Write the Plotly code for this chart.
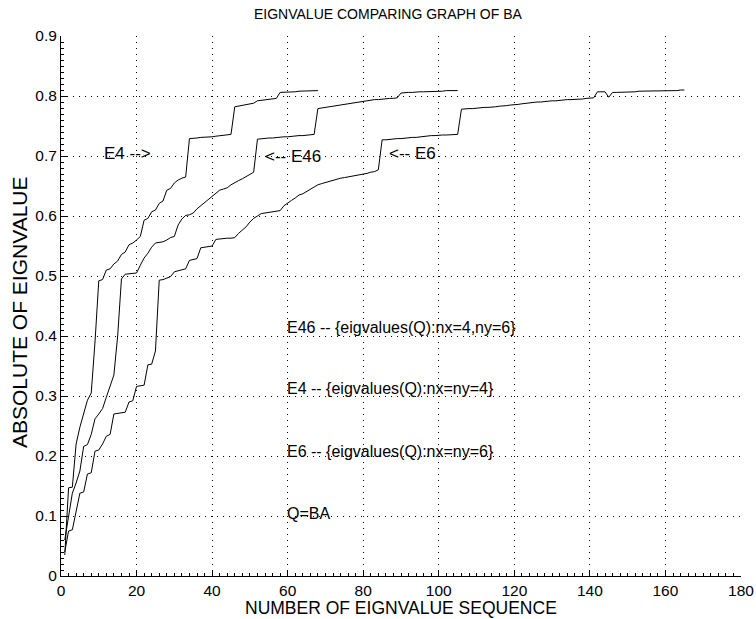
import plotly.graph_objects as go

# ---- data (absolute eigenvalues sorted, index 1..N) ----
e4_vals = [0.035, 0.147, 0.148, 0.220, 0.248, 0.270, 0.293, 0.305, 0.390, 0.492,
           0.494, 0.510, 0.512, 0.520, 0.525, 0.536, 0.540, 0.552, 0.555, 0.560,
           0.566, 0.593, 0.596, 0.607, 0.610, 0.621, 0.625, 0.643, 0.646, 0.655,
           0.660, 0.663, 0.665, 0.729, 0.729, 0.730, 0.731, 0.731, 0.732, 0.732,
           0.733, 0.734, 0.734, 0.735, 0.736, 0.782, 0.783, 0.784, 0.785, 0.786,
           0.788, 0.792, 0.793, 0.794, 0.795, 0.795, 0.796, 0.806, 0.806, 0.807,
           0.807, 0.807, 0.808, 0.808, 0.808, 0.809, 0.809, 0.809]

e46_vals = [0.060, 0.100, 0.138, 0.155, 0.175, 0.216, 0.219, 0.236, 0.262, 0.270,
            0.279, 0.298, 0.315, 0.335, 0.400, 0.495, 0.503, 0.504, 0.504, 0.505,
            0.518, 0.530, 0.538, 0.548, 0.555, 0.556, 0.557, 0.560, 0.564, 0.566,
            0.585, 0.595, 0.601, 0.602, 0.605, 0.612, 0.617, 0.622, 0.627, 0.633,
            0.637, 0.643, 0.645, 0.647, 0.652, 0.656, 0.659, 0.662, 0.666, 0.670,
            0.673, 0.728, 0.729, 0.729, 0.730, 0.730, 0.731, 0.731, 0.732, 0.732,
            0.733, 0.733, 0.734, 0.734, 0.735, 0.735, 0.736, 0.779, 0.780, 0.781,
            0.782, 0.783, 0.784, 0.785, 0.786, 0.787, 0.788, 0.789, 0.790, 0.792,
            0.793, 0.793, 0.794, 0.794, 0.795, 0.795, 0.796, 0.796, 0.797, 0.805,
            0.806, 0.806, 0.806, 0.807, 0.807, 0.807, 0.807, 0.808, 0.808, 0.808,
            0.808, 0.809, 0.809, 0.809, 0.809]

e6_vals = [0.040, 0.075, 0.077, 0.110, 0.138, 0.140, 0.170, 0.172, 0.208, 0.210,
           0.220, 0.233, 0.236, 0.270, 0.271, 0.272, 0.273, 0.290, 0.292, 0.316,
           0.317, 0.318, 0.352, 0.353, 0.375, 0.493, 0.494, 0.496, 0.499, 0.507,
           0.509, 0.510, 0.512, 0.526, 0.527, 0.529, 0.547, 0.548, 0.549, 0.550,
           0.561, 0.562, 0.562, 0.563, 0.563, 0.564, 0.571, 0.577, 0.582, 0.590,
           0.596, 0.600, 0.604, 0.605, 0.606, 0.607, 0.608, 0.609, 0.617, 0.622,
           0.626, 0.630, 0.635, 0.637, 0.641, 0.645, 0.648, 0.652, 0.654, 0.656,
           0.658, 0.660, 0.662, 0.663, 0.664, 0.665, 0.666, 0.667, 0.668, 0.669,
           0.671, 0.673, 0.674, 0.677, 0.727, 0.727, 0.728, 0.728, 0.729, 0.729,
           0.730, 0.730, 0.731, 0.731, 0.732, 0.733, 0.733, 0.734, 0.734, 0.735,
           0.735, 0.735, 0.735, 0.736, 0.736, 0.778, 0.779, 0.779, 0.779, 0.780,
           0.780, 0.781, 0.781, 0.781, 0.782, 0.783, 0.783, 0.784, 0.785, 0.785,
           0.786, 0.787, 0.788, 0.788, 0.789, 0.790, 0.790, 0.791, 0.791, 0.792,
           0.792, 0.793, 0.793, 0.794, 0.794, 0.794, 0.795, 0.795, 0.796, 0.796,
           0.797, 0.807, 0.807, 0.807, 0.798, 0.806, 0.806, 0.806, 0.807, 0.807,
           0.807, 0.807, 0.808, 0.808, 0.808, 0.808, 0.808, 0.809, 0.809, 0.809,
           0.809, 0.809, 0.809, 0.810, 0.810]

x_ticks = [0, 20, 40, 60, 80, 100, 120, 140, 160, 180]
y_ticks = [0, 0.1, 0.2, 0.3, 0.4, 0.5, 0.6, 0.7, 0.8, 0.9]
y_tick_text = ["0", "0.1", "0.2", "0.3", "0.4", "0.5", "0.6", "0.7", "0.8", "0.9"]

title_text = "EIGNVALUE COMPARING GRAPH OF BA"
x_title = "NUMBER OF EIGNVALUE SEQUENCE"
y_title = "ABSOLUTE OF EIGNVALUE"

arrow_labels = [("E4 -->", 17.6, 0.705, "center"),
                ("<-- E46", 53.5, 0.700, "left"),
                ("<-- E6", 86.3, 0.705, "left")]
legend_lines = [("E46 -- {eigvalues(Q):nx=4,ny=6}", 59.3, 0.415),
                ("E4 -- {eigvalues(Q):nx=ny=4}", 59.3, 0.312),
                ("E6 -- {eigvalues(Q):nx=ny=6}", 59.3, 0.208),
                ("Q=BA", 59.3, 0.105)]

FONT = "Liberation Sans, Arial, Helvetica, sans-serif"
FIG_W, FIG_H = 756, 619

fig = go.Figure()
for vals in (e4_vals, e46_vals, e6_vals):
    fig.add_trace(go.Scatter(x=list(range(1, len(vals) + 1)), y=vals, mode="lines",
                             line=dict(color="black", width=1), showlegend=False,
                             hoverinfo="skip"))

for txt, x, y, anc in arrow_labels:
    fig.add_annotation(x=x, y=y, xref="x", yref="y", text=txt, showarrow=False,
                       xanchor=anc, yanchor="middle",
                       font=dict(size=17, color="black", family=FONT))
for txt, x, y in legend_lines:
    fig.add_annotation(x=x, y=y, xref="x", yref="y", text=txt, showarrow=False,
                       xanchor="left", yanchor="middle",
                       font=dict(size=16, color="black", family=FONT))

# axis titles
fig.add_annotation(x=0.5, y=0, xref="paper", yref="paper", yshift=-32, text=x_title,
                   showarrow=False, xanchor="center", yanchor="middle",
                   font=dict(size=17.5, color="black", family=FONT))
fig.add_annotation(x=0, y=0.5, xref="paper", yref="paper", xshift=-42, yshift=-6,
                   text=y_title, textangle=-90, showarrow=False,
                   xanchor="center", yanchor="middle",
                   font=dict(size=21, color="black", family=FONT))
# plot title
fig.add_annotation(x=0.5, y=1, xref="paper", yref="paper", xshift=-13, yshift=22,
                   text=title_text, showarrow=False, xanchor="center", yanchor="middle",
                   font=dict(size=14, color="black", family=FONT))

fig.update_layout(
    width=FIG_W, height=FIG_H,
    margin=dict(l=60.5, r=14.5, t=36, b=43, autoexpand=False),
    paper_bgcolor="white", plot_bgcolor="white",
    font=dict(family=FONT, color="black"),
)
common = dict(ticks="inside", ticklen=6, tickcolor="black", showline=True,
              linecolor="black", linewidth=1, showgrid=True, gridcolor="black",
              griddash="1px,5px", gridwidth=1, zeroline=False, automargin=False,
              tickfont=dict(size=15.5, family=FONT, color="black"))
fig.update_xaxes(range=[0, 180], tickvals=x_ticks, ticklabelstandoff=0,
                 minor=dict(ticks="inside", dtick=2, ticklen=3, tickcolor="black",
                            showgrid=False), **common)
fig.update_yaxes(range=[0, 0.9], tickvals=y_ticks, ticktext=y_tick_text,
                 minor=dict(ticks="inside", dtick=0.01, ticklen=3, tickcolor="black",
                            showgrid=False), **common)

# remove the browser's default page margin so the figure fills the window exactly
fig.write_html("out.html", config={"displayModeBar": False},
               post_script="document.body.style.margin='0';document.body.style.overflow='hidden';")
